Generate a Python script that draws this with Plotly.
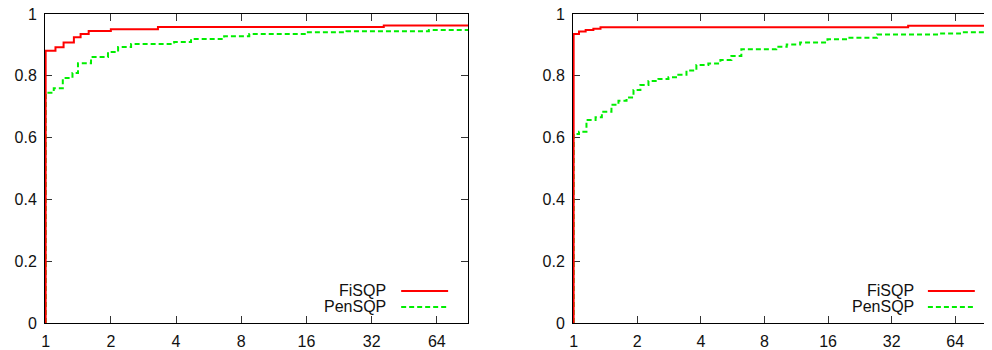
import plotly.graph_objects as go
import math

# ---- data (performance profiles, tau on log2 scale) ----
# Left panel
left_fisqp_tau = [1, 1, 1.11, 1.21, 1.35, 1.45, 1.58, 2.0, 3.3, 36.4, 100]
left_fisqp_val = [0, 0.881, 0.892, 0.908, 0.925, 0.935, 0.945, 0.951, 0.958, 0.963, 0.963]

left_pensqp_tau = [1, 1, 1.09, 1.20, 1.33, 1.41, 1.62, 1.94, 2.16, 2.48, 3.92, 4.69,
                   6.67, 8.71, 16.0, 24.5, 58.8, 100]
left_pensqp_val = [0, 0.745, 0.76, 0.793, 0.809, 0.841, 0.861, 0.877, 0.893, 0.903, 0.909, 0.919,
                   0.928, 0.935, 0.941, 0.944, 0.948, 0.948]

# Right panel
right_fisqp_tau = [1, 1, 1.06, 1.14, 1.24, 1.34, 38.3, 100]
right_fisqp_val = [0, 0.935, 0.943, 0.948, 0.952, 0.957, 0.962, 0.962]

right_pensqp_tau = [1, 1, 1.06, 1.15, 1.27, 1.36, 1.51, 1.63, 1.78, 1.92, 2.07, 2.26, 2.52,
                    2.81, 3.13, 3.42, 3.81, 4.34, 4.95, 5.58, 6.22, 9.10, 10.2, 11.8,
                    15.9, 19.7, 27.3, 54.2, 67.4, 100]
right_pensqp_val = [0, 0.612, 0.619, 0.657, 0.666, 0.684, 0.706, 0.719, 0.730, 0.754, 0.770,
                    0.783, 0.790, 0.795, 0.803, 0.817, 0.835, 0.840, 0.851, 0.864, 0.886,
                    0.894, 0.901, 0.908, 0.918, 0.923, 0.934, 0.937, 0.941, 0.941]

x_tickvals = [1, 2, 4, 8, 16, 32, 64]
x_ticktext = ["1", "2", "4", "8", "16", "32", "64"]
y_tickvals = [0, 0.2, 0.4, 0.6, 0.8, 1]
y_ticktext = ["0", "0.2", "0.4", "0.6", "0.8", "1"]
series_names = ["FiSQP", "PenSQP"]

RED = "#ff0000"
GREEN = "#00ee00"
DASH = "5px,3px"
FONT = dict(family="Liberation Sans, Arial", size=16, color="#111")

# the page body adds an 8px margin, so the figure is drawn 8px in from the top-left
OFF = 8
W, H = 992 - OFF, 350 - OFF

fig = go.Figure()

panels = [
    ("x", "y", left_fisqp_tau, left_fisqp_val, left_pensqp_tau, left_pensqp_val),
    ("x2", "y2", right_fisqp_tau, right_fisqp_val, right_pensqp_tau, right_pensqp_val),
]
for xa, ya, ft, fv, pt, pv in panels:
    fig.add_trace(go.Scatter(x=pt, y=pv, mode="lines", line_shape="hv",
                             line=dict(color=GREEN, width=2, dash=DASH),
                             xaxis=xa, yaxis=ya, showlegend=False, name=series_names[1]))
    fig.add_trace(go.Scatter(x=ft, y=fv, mode="lines", line_shape="hv",
                             line=dict(color=RED, width=2),
                             xaxis=xa, yaxis=ya, showlegend=False, name=series_names[0]))

# small left pad (in log10 units, ~0.7px) so the vertical jump at tau=1 is not clipped away
PAD = -0.003


def xaxis_cfg(domain, upper_log10, anchor):
    return dict(type="log", domain=domain, range=[PAD, upper_log10], anchor=anchor,
                tickvals=x_tickvals, ticktext=x_ticktext, ticks="inside", ticklen=7,
                tickcolor="#333", showline=True, linecolor="black", linewidth=1,
                mirror="allticks", showgrid=False, zeroline=False, automargin=False,
                layer="below traces", ticklabelstandoff=4, ticklabeloverflow="allow",
                tickfont=FONT)


def yaxis_cfg(anchor):
    return dict(range=[0, 1], domain=[0, 1], anchor=anchor,
                tickvals=y_tickvals, ticktext=y_ticktext, ticks="inside", ticklen=7,
                tickcolor="#333", showline=True, linecolor="black", linewidth=1,
                mirror="allticks", showgrid=False, zeroline=False, automargin=False,
                layer="below traces", ticklabelstandoff=4, ticklabeloverflow="allow",
                tickfont=FONT)


# screen-pixel positions from the reference, converted to figure coordinates
left_dom = [(45 - OFF) / W, (468 - OFF) / W]
right_dom = [(573 - OFF) / W, 1.0]
left_upper = (468 - 45) / 65.3 * math.log10(2)
right_upper = (992 - 573) / 63.7 * math.log10(2)

fig.update_layout(
    width=W, height=H,
    margin=dict(l=0, r=0, t=14 - OFF, b=H - (323 - OFF), autoexpand=False),
    paper_bgcolor="white", plot_bgcolor="white",
    xaxis=xaxis_cfg(left_dom, left_upper, "y"),
    yaxis=yaxis_cfg("x"),
    xaxis2=xaxis_cfg(right_dom, right_upper, "y2"),
    yaxis2=yaxis_cfg("x2"),
    showlegend=False,
)

# gnuplot-style key (text left, sample right) in each panel
annotations = []
shapes = []
for xr, yr, tx, l0, l1 in [("x domain", "y domain", 0.811, 0.842, 0.953),
                           ("x2 domain", "y2 domain", 0.819, 0.847, 0.959)]:
    for name, yy, col, dash in [(series_names[0], 0.1036, RED, "solid"),
                                (series_names[1], 0.052, GREEN, DASH)]:
        annotations.append(dict(xref=xr, yref=yr, x=tx, y=yy, text=name, showarrow=False,
                                xanchor="right", yanchor="middle", font=FONT))
        shapes.append(dict(type="line", xref=xr, yref=yr, x0=l0, x1=l1, y0=yy, y1=yy,
                           line=dict(color=col, width=2, dash=dash)))
fig.update_layout(annotations=annotations, shapes=shapes)

fig.write_html("out.html")
